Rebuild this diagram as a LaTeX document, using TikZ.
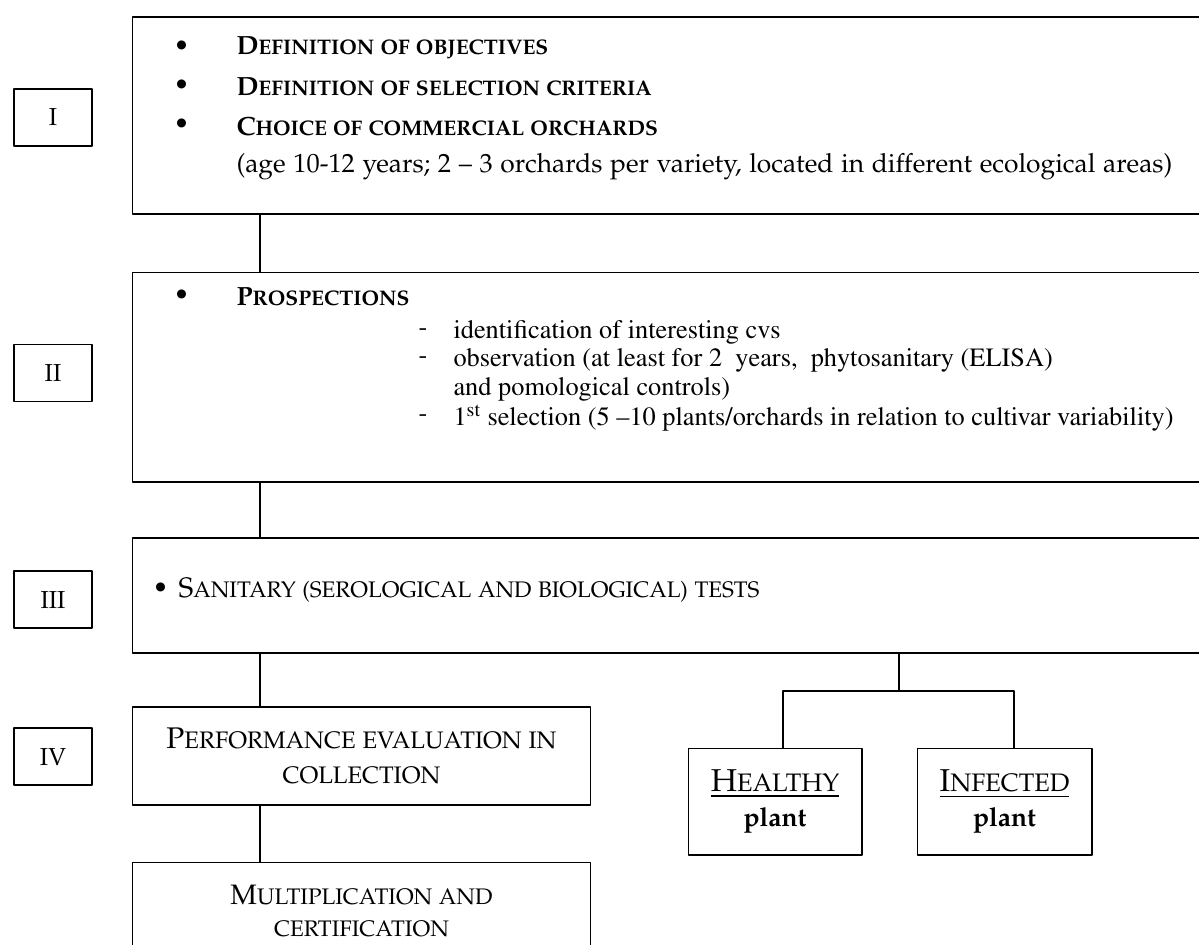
\documentclass[tikz,border=0pt]{standalone}
\usepackage[T1]{fontenc}
\usepackage[sc]{mathpazo}
\newcommand{\timesfont}{\fontfamily{ptm}\selectfont}
\newcommand{\wsc}[3][12]{#2{\fontsize{#1}{14}\selectfont #3}}
\begin{document}
\begin{tikzpicture}[x=0.02cm, y=-0.02cm, line width=.6pt, line join=round,
	font=\fontsize{15}{18}\selectfont,
	stage/.style={draw, minimum width=1.56cm, minimum height=1.14cm, inner sep=0pt, font=\fontsize{14}{16}\selectfont},
	block/.style={draw, inner sep=0pt, align=center},
	txt/.style={anchor=west, inner sep=0pt},
	head/.style={anchor=west, inner sep=0pt, font=\fontsize{15}{18}\selectfont\bfseries},
	sub/.style={anchor=west, inner sep=0pt, font=\timesfont\fontsize{15}{17}\selectfont}]
	%	\draw[gray, step=50] (0,0) grid (1199,944);
	\useasboundingbox (0,0) rectangle (1199,944);
	\node[stage] (L1) at (53,117.5) {I};
	\node[stage] (L2) at (53,373) {II};
	\node[stage] (L3) at (53,599.5) {III};
	\node[stage] (L4) at (53,756.5) {IV};
	
	\node[block, minimum width=21.66cm, minimum height=3.94cm] (S1) at (673.5,115.5) {};
	\node[block, minimum width=21.66cm, minimum height=4.2cm] (S2) at (673.5,377) {};
	\node[block, minimum width=21.66cm, minimum height=2.3cm] (S3) at (673.5,595.5) {};
	\node[block, minimum width=9.18cm, minimum height=1.96cm, font=\fontsize{17}{20}\selectfont] (S4) at (361.5,756) {\wsc[13.6]{P}{ERFORMANCE EVALUATION IN}\\\wsc[13.6]{}{COLLECTION}};
	\node[block, minimum width=9.18cm, minimum height=1.96cm, font=\fontsize{16}{18}\selectfont] (S5) at (361.5,911) {\wsc[12.8]{M}{ULTIPLICATION AND}\\\wsc[12.8]{}{CERTIFICATION}};
	\node[block, minimum width=3.48cm, minimum height=2.14cm, font=\fontsize{18}{20}\selectfont] (H) at (775,801.5) {\underline{\wsc[14.4]{H}{EALTHY}}\\\fontsize{15}{18}\selectfont\textbf{plant}};
	\node[block, minimum width=3.5cm, minimum height=2.14cm, font=\fontsize{18}{20}\selectfont] (Inf) at (1004.5,801.5) {\underline{\wsc[14.4]{I}{NFECTED}}\\\fontsize{15}{18}\selectfont\textbf{plant}};
	
	% stage I
	\node[txt] (b11) at (173,48) {\textbullet};
	\node[head] (t11) at (236,48) {\wsc{D}{EFINITION OF OBJECTIVES}};
	\node[txt] (b12) at (173,87) {\textbullet};
	\node[head] (t12) at (236,87) {\wsc{D}{EFINITION OF SELECTION CRITERIA}};
	\node[txt] (b13) at (173,126) {\textbullet};
	\node[head] (t13) at (236,126) {\wsc{C}{HOICE OF COMMERCIAL ORCHARDS}};
	\node[txt] (t14) at (236,167) {(age 10-12 years; 2 -- 3 orchards per variety, located in different ecological areas)};
	
	% stage II
	\node[txt] (b21) at (173,297) {\textbullet};
	\node[head] (t21) at (236,297) {\wsc{P}{ROSPECTIONS}};
	\node[sub] (d22) at (418,332) {-};
	\node[sub] (t22) at (453,332) {identification of interesting cvs};
	\node[sub] (d23) at (418,360) {-};
	\node[sub] (t23) at (453,360) {observation (at least for 2\ \ years,\ \ phytosanitary (ELISA)};
	\node[sub] (t24) at (453,389) {and pomological controls)};
	\node[sub] (d25) at (418,418) {-};
	\node[sub] (t25) at (453,418) {1\textsuperscript{st} selection (5 --10 plants/orchards in relation to cultivar variability)};
	
	% stage III
	\node[txt] (b31) at (152,590) {\textbullet};
	\node[txt, font=\fontsize{16}{18}\selectfont] (t31) at (178,590) {\wsc[12.8]{S}{ANITARY (SEROLOGICAL AND BIOLOGICAL) TESTS}};
	
	\path
	(260,0) coordinate (C)
	(899,691) coordinate (F)
	(783,0) coordinate (Hx)
	(1014,0) coordinate (Ix)
	;
	\draw (S1.south -| C)--(S2.north -| C)
	(S2.south -| C)--(S3.north -| C)
	(S3.south -| C)--(S4.north -| C)
	(S4.south -| C)--(S5.north -| C)
	(S3.south -| F)--(F)
	(H.north -| Hx) |- (F) -| (Inf.north -| Ix)
	;
\end{tikzpicture}
\end{document}
